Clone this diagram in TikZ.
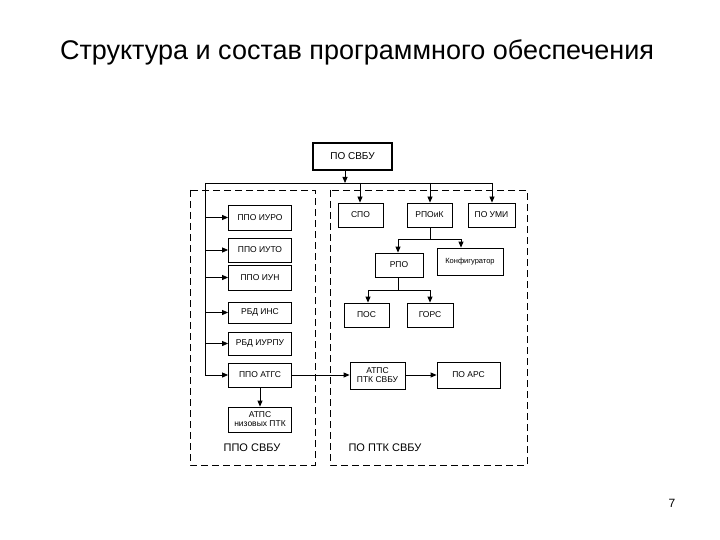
\documentclass[tikz,border=0pt]{standalone}
\usepackage{fontspec}
\setmainfont{Liberation Sans}
\usetikzlibrary{arrows.meta}
\begin{document}
\begin{tikzpicture}[x=1pt,y=-1pt,
  bx/.style={draw,thick,inner sep=0pt,align=center,font=\fontsize{8.5}{9}\selectfont},
  ar/.style={-{Triangle[length=6pt,width=5pt]},thick},
  ln/.style={thick},
  dsh/.style={draw,thick,dash pattern=on 7pt off 4pt}]
\useasboundingbox (0,0) rectangle (720,540);
\node[font=\fontsize{27}{30}\selectfont] (title) at (357,52) {Структура и состав программного обеспечения};
\node[font=\fontsize{12}{14}\selectfont] (pg) at (672,503) {7};
\draw[dsh] (190,190) rectangle (315,465);
\draw[dsh] (330,190) rectangle (527,465);
\node[bx,line width=1.6pt,minimum width=79pt,minimum height=27pt,font=\fontsize{10}{12}\selectfont] (top) at (352.5,156.5) {ПО СВБУ};
\tikzset{lb/.style={bx,minimum width=63pt}}
\node[lb,minimum height=25pt] (l1) at (260,217.5) {ППО ИУРО};
\node[lb,minimum height=24pt] (l2) at (260,250) {ППО ИУТО};
\node[lb,minimum height=25pt] (l3) at (260,277.5) {ППО ИУН};
\node[lb,minimum height=21pt] (l4) at (260,312.5) {РБД ИНС};
\node[lb,minimum height=23pt] (l5) at (260,343.5) {РБД ИУРПУ};
\node[lb,minimum height=24pt] (l6) at (260,375) {ППО АТГС};
\node[lb,minimum height=25pt] (l7) at (260,419.5) {АТПС\\низовых ПТК};
\node[bx,minimum width=45pt,minimum height=24pt] (spo) at (360.5,215) {СПО};
\node[bx,minimum width=45pt,minimum height=24pt] (rpoik) at (429.5,215) {РПОиК};
\node[bx,minimum width=47pt,minimum height=24pt] (umi) at (491.5,215) {ПО УМИ};
\node[bx,minimum width=48pt,minimum height=24pt] (rpo) at (399,265) {РПО};
\node[bx,minimum width=66pt,minimum height=27pt,font=\fontsize{7.5}{9}\selectfont] (konf) at (470,261.5) {Конфигуратор};
\node[bx,minimum width=45pt,minimum height=24pt] (pos) at (366.5,315) {ПОС};
\node[bx,minimum width=46pt,minimum height=24pt] (gors) at (430,315) {ГОРС};
\node[bx,minimum width=55pt,minimum height=27pt] (atps) at (377.5,375.5) {АТПС\\ПТК СВБУ};
\node[bx,minimum width=63pt,minimum height=26pt] (ars) at (468.5,375) {ПО АРС};
\node (lab1) at (252,448) {\fontsize{11}{13}\selectfont ППО СВБУ};
\node (lab2) at (385,448) {\fontsize{11}{13}\selectfont ПО ПТК СВБУ};
\coordinate (bus) at (345,183);
\draw[ar] (top.south -| bus) -- (bus);
\draw[ln] (205,183) -- (492,183);
\draw[ln] (205,183) -- (205,375);
\foreach \n in {l1,l2,l3,l4,l5,l6} \draw[ar] (205,0 |- \n.west) -- (\n.west);
\draw[ar] (360,183) -- (spo.north -| 360,0);
\draw[ar] (430,183) -- (rpoik.north -| 430,0);
\draw[ar] (492,183) -- (umi.north -| 492,0);
\draw[ln] (rpoik.south -| 430,0) -- (430,239);
\draw[ln] (398,239) -- (461,239);
\draw[ar] (398,239) -- (rpo.north -| 398,0);
\draw[ar] (461,239) -- (konf.north -| 461,0);
\draw[ln] (rpo.south -| 398,0) -- (398,290);
\draw[ln] (368,290) -- (430,290);
\draw[ar] (368,290) -- (pos.north -| 368,0);
\draw[ar] (430,290) -- (gors.north -| 430,0);
\draw[ar] (l6.south) -- (l7.north);
\draw[ar] (l6.east) -- (atps.west |- l6.east);
\draw[ar] (atps.east |- ars.west) -- (ars.west);
\end{tikzpicture}
\end{document}
